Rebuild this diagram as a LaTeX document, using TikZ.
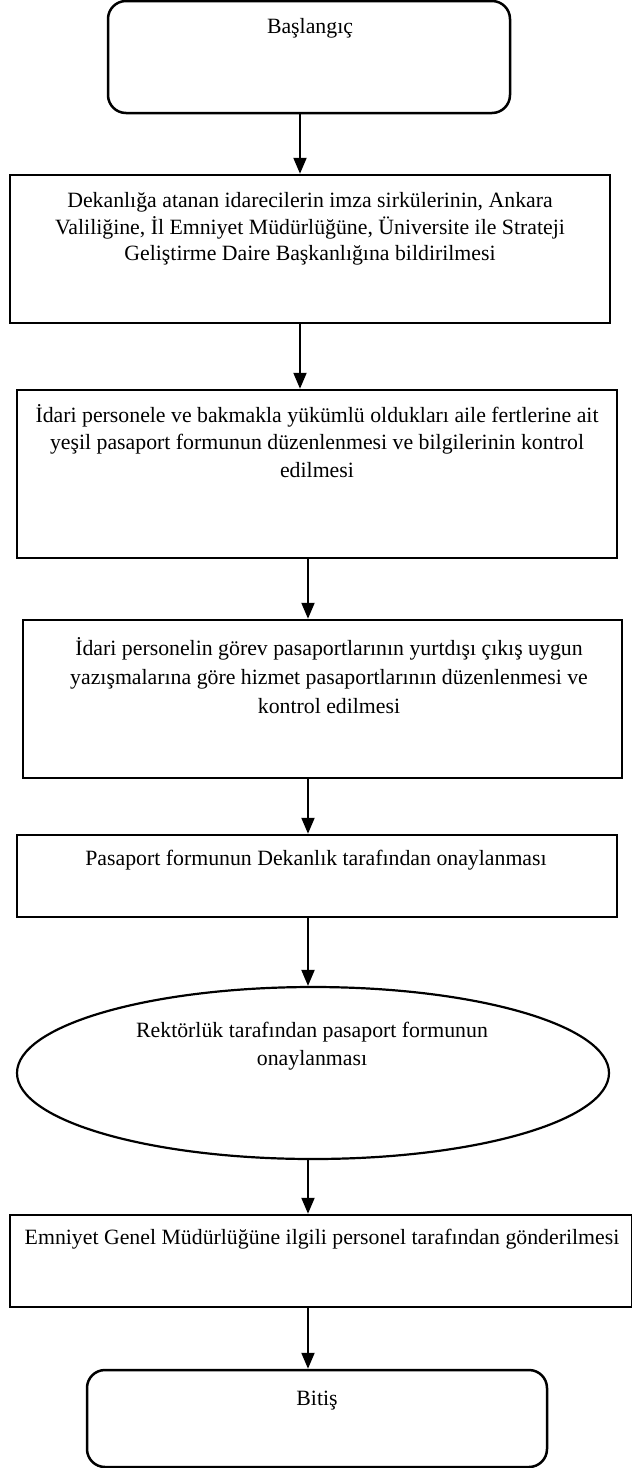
\documentclass[tikz,border=0pt]{standalone}
\usepackage{fontspec}
\setmainfont{Liberation Serif}
\usetikzlibrary{shapes.geometric, arrows.meta}
\tikzset{
  box/.style={draw, line width=2.5pt, rectangle, inner sep=0pt},
  rbox/.style={box, rounded corners=18pt},
  oval/.style={draw, line width=2.2pt, ellipse, inner sep=0pt},
  txt/.style={font=\fontsize{21.8}{27.5}\selectfont, align=center, inner sep=0pt},
  arr/.style={-{Triangle[width=13pt,length=16pt]}, line width=2pt}
}
\begin{document}
\begin{tikzpicture}[x=1pt,y=-1pt]
\useasboundingbox (0,0) rectangle (632,1468);

\node[rbox, minimum width=402pt, minimum height=112pt] (s) at (309,57) {};
\node[txt] (st) at (310,28) {Başlangıç};

\node[box, minimum width=600pt, minimum height=148pt] (b1) at (310,249) {};
\node[txt, font=\fontsize{21.8}{26.5}\selectfont] (t1) at (310,229) {Dekanlığa atanan idarecilerin imza sirkülerinin, Ankara\\
Valiliğine, İl Emniyet Müdürlüğüne, Üniversite ile Strateji\\
Geliştirme Daire Başkanlığına bildirilmesi};

\node[box, minimum width=600pt, minimum height=168pt] (b2) at (317,474) {};
\node[txt] (t2) at (317,441) {İdari personele ve bakmakla yükümlü oldukları aile fertlerine ait\\
yeşil pasaport formunun düzenlenmesi ve bilgilerinin kontrol\\
edilmesi};

\node[box, minimum width=599pt, minimum height=158pt] (b3) at (322.5,699) {};
\node[txt, font=\fontsize{21.8}{29}\selectfont] (t3) at (329,676) {İdari personelin görev pasaportlarının yurtdışı çıkış uygun\\
yazışmalarına göre hizmet pasaportlarının düzenlenmesi ve\\
kontrol edilmesi};

\node[box, minimum width=600pt, minimum height=82pt] (b4) at (317,876) {};
\node[txt] (t4) at (316,860) {Pasaport formunun Dekanlık tarafından onaylanması};

\node[oval, minimum width=592pt, minimum height=172pt] (e) at (313,1073) {};
\node[txt] (te) at (312,1046) {Rektörlük tarafından pasaport formunun\\ onaylanması};

\node[box, minimum width=622pt, minimum height=92pt] (b5) at (321,1261) {};
\node[txt] (t5) at (322,1239) {Emniyet Genel Müdürlüğüne ilgili personel tarafından gönderilmesi};

\node[rbox, minimum width=460pt, minimum height=97pt] (f) at (317,1418.5) {};
\node[txt] (ft) at (317,1401) {Bitiş};

\draw[arr] ([xshift=-9pt]s.south) -- ([xshift=-10pt]b1.north);
\draw[arr] ([xshift=-10pt]b1.south) -- ([xshift=-17pt]b2.north);
\draw[arr] ([xshift=-9pt]b2.south) -- ([xshift=-14.5pt]b3.north);
\draw[arr] ([xshift=-14.5pt]b3.south) -- ([xshift=-9pt]b4.north);
\draw[arr] ([xshift=-9pt]b4.south) -- ([xshift=-5pt]e.north);
\draw[arr] ([xshift=-5pt]e.south) -- ([xshift=-13pt]b5.north);
\draw[arr] ([xshift=-13pt]b5.south) -- ([xshift=-9pt]f.north);
\end{tikzpicture}
\end{document}
